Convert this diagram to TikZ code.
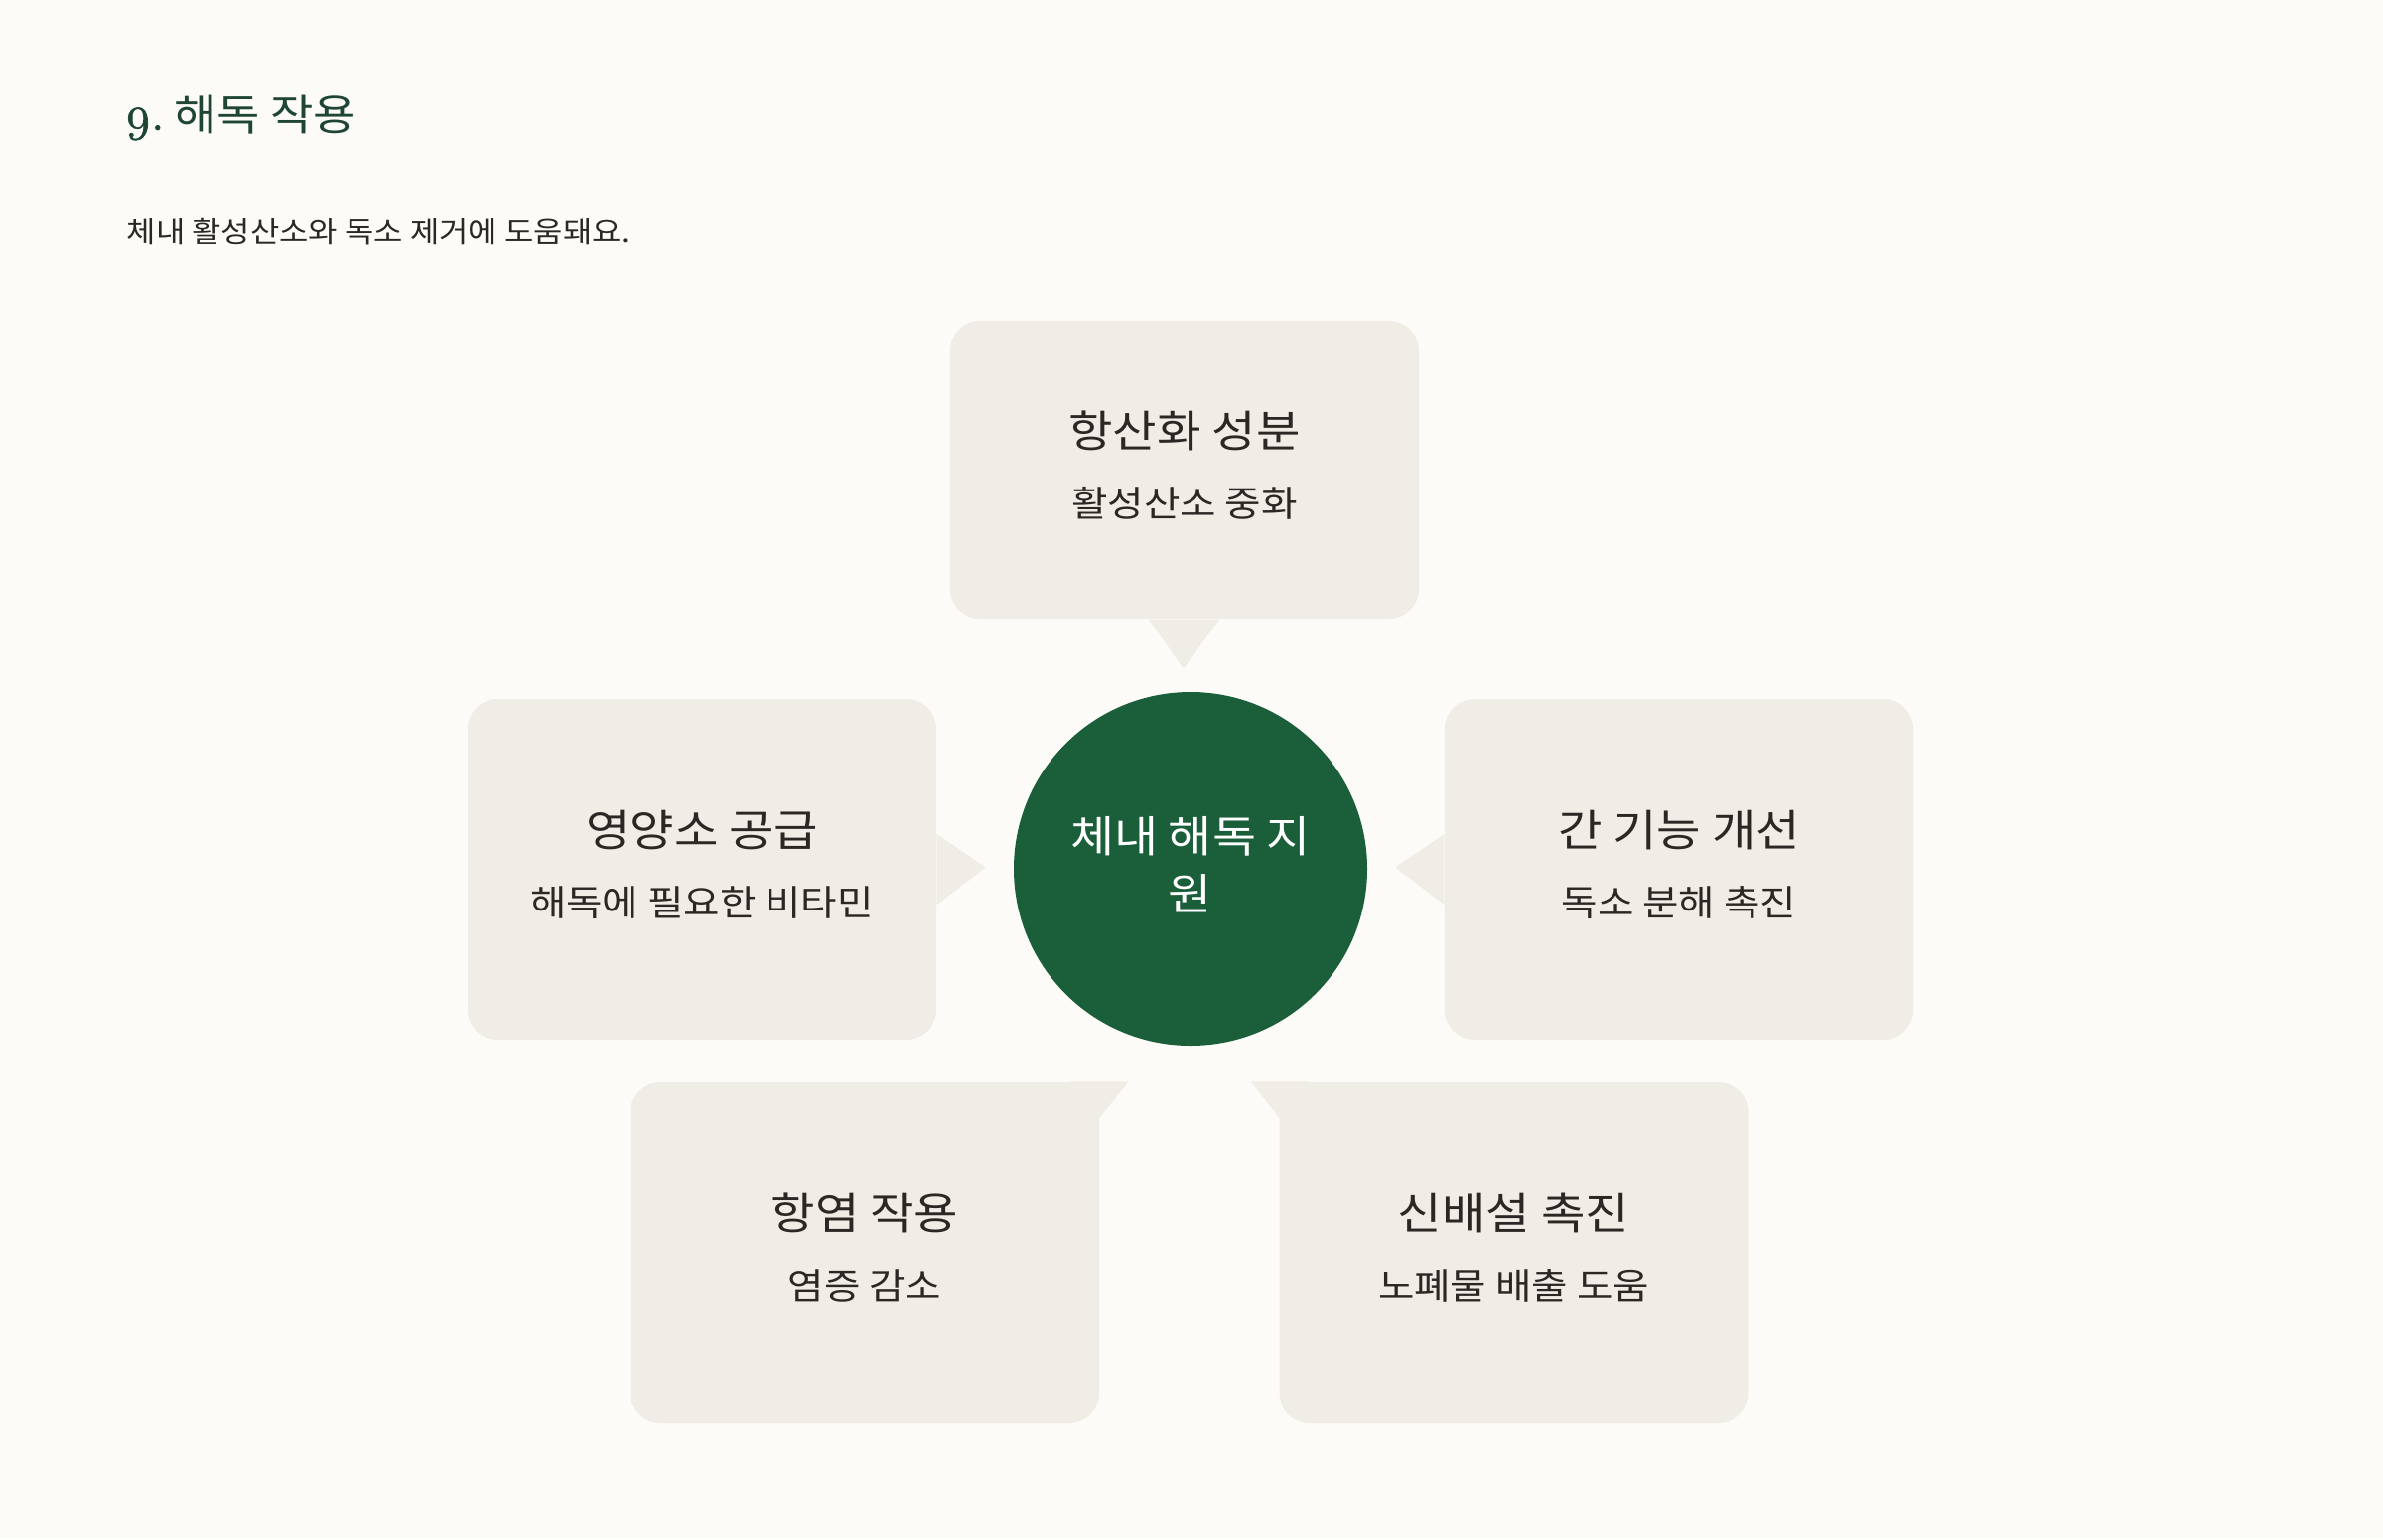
\documentclass[tikz,border=0pt]{standalone}
\usepackage{fontspec}
\setmainfont{Noto Sans CJK KR}[FakeStretch=1.1]
\newfontfamily\numfont{Latin Modern Roman}[Numbers=OldStyle, Scale=1.12, FakeBold=1.5]
\usepackage{tikz}
\usetikzlibrary{positioning,calc}
\definecolor{pagebg}{HTML}{FCFBF8}
\definecolor{cardbg}{HTML}{F0EDE7}
\definecolor{hubgreen}{HTML}{1B5E3A}
\definecolor{headgreen}{HTML}{1E4632}
\definecolor{inkdark}{HTML}{2B2724}

\begin{document}
\begin{tikzpicture}[
      heading/.style={anchor=base west, inner sep=0pt, text=headgreen, font=\fontsize{12.2}{15}\selectfont},
      lead/.style={anchor=base west, inner sep=0pt, text=inkdark, font=\fontsize{8.25}{10}\selectfont},
      card/.style={fill=cardbg, rounded corners=0.3cm, minimum width=4.72cm, inner sep=0pt},
      cardtitle/.style={anchor=base, inner sep=0pt, text=inkdark, font=\fontsize{12.5}{15}\selectfont},
      cardsub/.style={anchor=base, inner sep=0pt, text=inkdark, font=\fontsize{10.25}{12}\selectfont},
      hub/.style={circle, fill=hubgreen, minimum size=3.56cm, inner sep=0pt, align=center,
        text=white, font=\fontsize{12.4}{16.5}\selectfont},
      tipfill/.style={fill=cardbg},
    ]
    \useasboundingbox[fill=pagebg] (0,0) rectangle (24,-15.5);

    % Heading
    \node[heading] (head) at (1.25, -1.31) {{\numfont 9.}\hspace{-1.2pt} 해독 작용};
    \node[lead] (leadline) at (1.27, -2.44) {체내 활성산소와 독소 제거에 도움돼요.};

    % Centre
    \node[hub] (hub) at (11.99, -8.75) {체내 해독 지\\원\vphantom{g}};

    % Cards
    \foreach \name/\x/\y/\h/\ttl/\sub in {
        top/11.93/-4.73/3.00/항산화 성분/활성산소 중화,
        left/7.07/-8.755/3.43/영양소 공급/해독에 필요한 비타민,
        right/16.91/-8.755/3.43/간 기능 개선/독소 분해 촉진,
        botleft/8.71/-12.615/3.43/항염 작용/염증 감소,
        botright/15.245/-12.615/3.43/신배설 촉진/노폐물 배출 도움}
    {
      \node[card, minimum height=\h cm] (\name) at (\x, \y) {};
      \node[cardtitle] (\name-title) at ($(\name.center)+(0,0.23)$) {\ttl};
      \node[cardsub] (\name-sub) at ($(\name.center)+(0,-0.47)$) {\sub};
    }

    % Pointers toward the centre
    \fill[tipfill] ([xshift=-3.6mm]top.south) -- ($(top.south)+(-0.01,-0.5)$)
      -- ([xshift=3.5mm]top.south) -- cycle;
    \fill[tipfill] ([yshift=3.55mm]left.east) -- ($(left.east)+(0.49,0.02)$)
      -- ([yshift=-3.55mm]left.east) -- cycle;
    \fill[tipfill] ([yshift=3.55mm]right.west) -- ($(right.west)+(-0.49,0.02)$)
      -- ([yshift=-3.55mm]right.west) -- cycle;
    \fill[tipfill] ($(botleft.north east)+(-0.3,0)$) -- ($(botleft.north east)+(0.29,0)$)
      -- ($(botleft.north east)+(0,-0.36)$) -- ($(botleft.north east)+(-0.3,-0.36)$) -- cycle;
    \fill[tipfill] ($(botright.north west)+(0.3,0)$) -- ($(botright.north west)+(-0.28,0)$)
      -- ($(botright.north west)+(0,-0.36)$) -- ($(botright.north west)+(0.3,-0.36)$) -- cycle;
  \end{tikzpicture}
\end{document}
